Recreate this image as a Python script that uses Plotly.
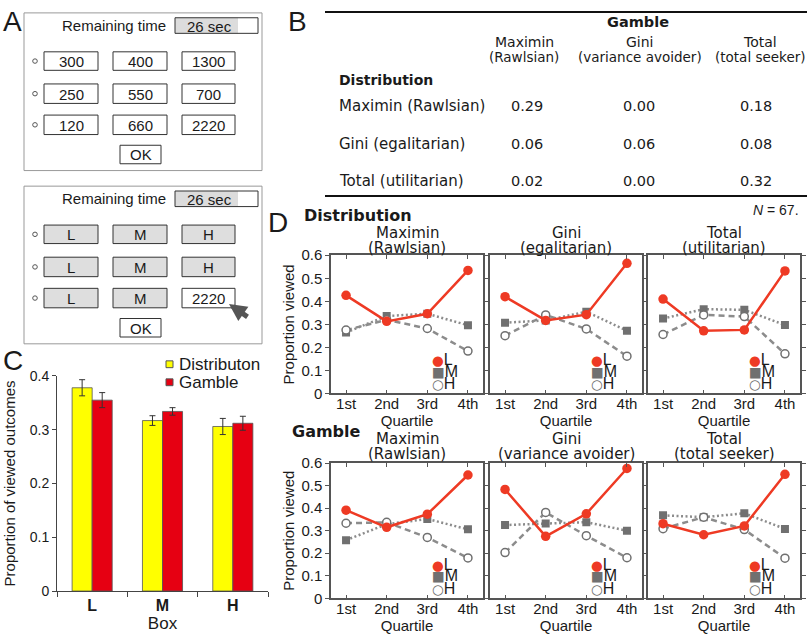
import plotly.graph_objects as go

W, H = 807, 637
ARIAL = "Liberation Sans, Arial, sans-serif"
WIDE = "DejaVu Sans, sans-serif"
INK = "#1a1a1a"

# ---- panel A: the two choice screens ----
remaining = "26 sec"
top_values = [["300", "400", "1300"], ["250", "550", "700"], ["120", "660", "2220"]]
bottom_values = [["L", "M", "H"], ["L", "M", "H"], ["L", "M", "2220"]]

# ---- panel B: type cross table ----
gamble_types = [("Maximin", "(Rawlsian)"), ("Gini", "(variance avoider)"), ("Total", "(total seeker)")]
dist_types = ["Maximin (Rawlsian)", "Gini (egalitarian)", "Total (utilitarian)"]
cross_table = [["0.29", "0.00", "0.18"],
               ["0.06", "0.06", "0.08"],
               ["0.02", "0.00", "0.32"]]
n_subjects = 67

# ---- panel C: proportion of viewed outcomes ----
boxes = ["L", "M", "H"]
dist_prop = [0.378, 0.317, 0.306]
dist_err = [0.015, 0.009, 0.015]
gamble_prop = [0.355, 0.334, 0.312]
gamble_err = [0.014, 0.007, 0.013]

# ---- panel D: proportion viewed by quartile ----
quartiles = ["1st", "2nd", "3rd", "4th"]
dist_titles = [("Maximin", "(Rawlsian)"), ("Gini", "(egalitarian)"), ("Total", "(utilitarian)")]
gamble_titles = [("Maximin", "(Rawlsian)"), ("Gini", "(variance avoider)"), ("Total", "(total seeker)")]
dist_L = [[0.426, 0.313, 0.346, 0.534], [0.420, 0.317, 0.342, 0.565], [0.410, 0.272, 0.276, 0.532]]
dist_M = [[0.265, 0.336, 0.346, 0.296], [0.307, 0.317, 0.355, 0.272], [0.325, 0.366, 0.363, 0.297]]
dist_H = [[0.275, 0.320, 0.282, 0.184], [0.251, 0.341, 0.280, 0.162], [0.256, 0.341, 0.334, 0.172]]
gamble_L = [[0.391, 0.315, 0.373, 0.547], [0.483, 0.275, 0.375, 0.576], [0.331, 0.282, 0.321, 0.550]]
gamble_M = [[0.258, 0.329, 0.352, 0.306], [0.325, 0.332, 0.338, 0.300], [0.368, 0.360, 0.377, 0.308]]
gamble_H = [[0.333, 0.337, 0.270, 0.179], [0.203, 0.381, 0.278, 0.180], [0.309, 0.360, 0.305, 0.178]]

RED = "#ee3a24"
GRAY = "#707070"
LINE_GRAY = "#8c8c8c"
YELLOW = "#ffff00"
CRIMSON = "#e60012"


def px(x):
    return x / W


def py(y):
    return 1 - y / H


shapes = []
notes = []


def text(x, y, s, size=15, family=ARIAL, xanchor="center", color=INK):
    notes.append(dict(x=px(x), y=py(y), xref="paper", yref="paper", text=s, showarrow=False,
                      xanchor=xanchor, yanchor="middle",
                      font=dict(size=size, family=family, color=color)))


def rect(x0, y0, x1, y1, line="#333", fill="white", width=1):
    shapes.append(dict(type="rect", xref="paper", yref="paper",
                       x0=px(x0), x1=px(x1), y0=py(y1), y1=py(y0),
                       line=dict(color=line, width=width), fillcolor=fill))


def hline(x0, x1, y, width=1, color="#111"):
    shapes.append(dict(type="line", xref="paper", yref="paper", x0=px(x0), x1=px(x1),
                       y0=py(y), y1=py(y), line=dict(color=color, width=width)))


# panel A screens
def screen(top, labels, shaded):
    rect(24, top, 262, top + 162, line="#999")
    text(168, top + 13, "Remaining time", xanchor="right")
    rect(175, top + 5, 238, top + 21, line="rgba(0,0,0,0)", fill="#dcdcdc", width=0)
    rect(175, top + 5, 258, top + 21, fill="rgba(0,0,0,0)")
    text(209, top + 14, remaining)
    cols = [(44, 98), (113, 167), (182, 235)]
    rows = [(40, 59), (73, 93), (105, 125)]
    for r, (a, b) in enumerate(rows):
        cy = top + (a + b) / 2
        shapes.append(dict(type="circle", xref="paper", yref="paper",
                           x0=px(32.7), x1=px(37.3), y0=py(cy + 2.3), y1=py(cy - 2.3),
                           line=dict(color="#555", width=1)))
        for c, (l, rr) in enumerate(cols):
            lab = labels[r][c]
            fill = "#dedede" if shaded and lab in ("L", "M", "H") else "white"
            rect(l, top + a, rr, top + b, fill=fill)
            text((l + rr) / 2, cy + 0.5, lab)
    rect(120, top + 136, 161, top + 155)
    text(140.5, top + 146, "OK")


screen(4, top_values, False)
screen(182, bottom_values, True)
notes.append(dict(x=px(229), y=py(303), xref="paper", yref="paper", text="", showarrow=True,
                  ax=20, ay=14, arrowhead=2, arrowsize=0.7, arrowwidth=5, arrowcolor="#555"))

# panel B table
hline(325, 807, 3, width=2)
hline(325, 807, 192, width=2)
text(638, 13, "<b>Gamble</b>", size=14.5, family=WIDE)
for (name, sub), cx in zip(gamble_types, [524, 640, 760]):
    text(cx, 34, name, size=14, family=WIDE)
    text(cx, 49, sub, size=13.5, family=WIDE)
text(337, 73, "<b>Distribution</b>", size=14, family=WIDE, xanchor="left")
for r, (name, yy) in enumerate(zip(dist_types, [100, 139, 177])):
    text(337, yy, name, size=15, family=WIDE, xanchor="left")
    for val, cx in zip(cross_table[r], [527, 639, 756]):
        text(cx, yy, val, size=14.5, family=WIDE)
notes.append(dict(x=px(801), y=py(206), xref="paper", yref="paper", showarrow=False,
                  xanchor="right", yanchor="middle", text=f"<i>N</i> = {n_subjects}.",
                  font=dict(size=14, family=ARIAL, color=INK)))

# panel letters
for letter, (lx, ly) in {"A": (13, 13), "B": (297, 13), "C": (13, 361), "D": (278, 219)}.items():
    text(lx, ly, letter, size=28)

fig = go.Figure()

# panel C bars
fig.add_trace(go.Bar(x=boxes, y=dist_prop, name="Distributon", showlegend=False,
                     marker=dict(color=YELLOW, line=dict(color="#555", width=0.8)),
                     error_y=dict(type="data", array=dist_err, color="#333", thickness=1, width=3),
                     xaxis="x", yaxis="y"))
fig.add_trace(go.Bar(x=boxes, y=gamble_prop, name="Gamble", showlegend=False,
                     marker=dict(color=CRIMSON, line=dict(color="#555", width=0.8)),
                     error_y=dict(type="data", array=gamble_err, color="#333", thickness=1, width=3),
                     xaxis="x", yaxis="y"))
# legend keys for panel C
for (name, color), yy in zip([("Distributon", YELLOW), ("Gamble", CRIMSON)], [365, 383.5]):
    rect(166, yy - 3.5, 173, yy + 3.5, line="#555", fill=color)
    text(177, yy, name, size=17, xanchor="left")

layout_axes = {}
layout_axes["xaxis"] = dict(domain=[px(57), px(268)], anchor="y", type="category",
                            tickvals=boxes, ticktext=[f"<b>{b}</b>" for b in boxes],
                            tickson="boundaries", ticks="outside", ticklen=5, tickcolor="#444",
                            showline=True, linecolor="#444", linewidth=1, showgrid=False,
                            tickfont=dict(size=16, family=ARIAL, color=INK),
                            title=dict(text="Box", standoff=0, font=dict(size=17, family=ARIAL, color=INK)))
layout_axes["yaxis"] = dict(domain=[py(598), py(377)], anchor="x", range=[0, 0.4], dtick=0.1,
                            ticks="outside", ticklen=4, tickcolor="#444", showline=True,
                            linecolor="#444", linewidth=1, showgrid=False, zeroline=False,
                            tickfont=dict(size=14, family=ARIAL, color=INK),
                            title=dict(text="Proportion of viewed outcomes", standoff=10,
                                       font=dict(size=15, family=ARIAL, color=INK)))

# panel D line charts
cols = [(331, 483), (490, 642), (648, 800)]
rows = [(253, 395, dist_titles, (dist_L, dist_M, dist_H), (230, 246)),
        (466.5, 605.5, gamble_titles, (gamble_L, gamble_M, gamble_H), (442, 457))]
text(302, 212, "<b>Distribution</b>", size=16, family=WIDE, xanchor="left")
text(290, 434, "<b>Gamble</b>", size=16, family=WIDE, xanchor="left")

for r, (top, bottom, titles, (Ls, Ms, Hs), (t1, t2)) in enumerate(rows):
    for c, (left, right) in enumerate(cols):
        idx = 2 + r * 3 + c
        xa, ya = f"x{idx}", f"y{idx}"
        fig.add_trace(go.Scatter(x=quartiles, y=Ms[c], mode="lines+markers", showlegend=False,
                                 line=dict(color=LINE_GRAY, width=2.5, dash="2px,2.5px"),
                                 marker=dict(symbol="square", size=8, color=GRAY),
                                 xaxis=xa, yaxis=ya))
        fig.add_trace(go.Scatter(x=quartiles, y=Hs[c], mode="lines+markers", showlegend=False,
                                 line=dict(color=LINE_GRAY, width=2.5, dash="6px,4px"),
                                 marker=dict(symbol="circle", size=8, color="white",
                                             line=dict(color=GRAY, width=1.5)),
                                 xaxis=xa, yaxis=ya))
        fig.add_trace(go.Scatter(x=quartiles, y=Ls[c], mode="lines+markers", showlegend=False,
                                 line=dict(color=RED, width=2.5),
                                 marker=dict(symbol="circle", size=9.5, color=RED),
                                 xaxis=xa, yaxis=ya))
        layout_axes[f"xaxis{idx}"] = dict(
            domain=[px(left), px(right)], anchor=ya, type="category", categoryarray=quartiles,
            range=[-0.37, 3.37], showline=True, mirror="ticks", linecolor="#555", linewidth=1.5,
            ticks="inside", ticklen=4, tickcolor="#555", showgrid=False, ticklabelstandoff=-4,
            tickfont=dict(size=15, family=ARIAL, color=INK),
            title=dict(text="Quartile", standoff=0, font=dict(size=15, family=ARIAL, color=INK)))
        layout_axes[f"yaxis{idx}"] = dict(
            domain=[py(bottom), py(top)], anchor=xa, range=[0, 0.6], dtick=0.1,
            showline=True, mirror="ticks", linecolor="#555", linewidth=1.5,
            ticks="outside", ticklen=4, tickcolor="#555", showgrid=False, zeroline=False,
            showticklabels=(c == 0), tickfont=dict(size=15, family=ARIAL, color=INK),
            title=dict(text="Proportion viewed" if c == 0 else "", standoff=3,
                       font=dict(size=15, family=ARIAL, color=INK)))
        name, sub = titles[c]
        text((left + right) / 2, t1, name, size=15, family=WIDE)
        text((left + right) / 2, t2, sub, size=15, family=WIDE)
        # legend inside each panel: coloured glyph followed by the series letter
        for glyph, gcolor, lab, dy in [("●", RED, "L", 35), ("■", GRAY, "M", 23), ("○", GRAY, "H", 10.5)]:
            key = (f'<span style="color:{gcolor};font-family:DejaVu Sans;font-size:13.5px">'
                   f'{glyph}</span>{lab}')
            text(left + 99, bottom - dy, key, size=16, family=ARIAL, xanchor="left")

fig.update_layout(
    width=W, height=H, margin=dict(l=0, r=0, t=0, b=0),
    paper_bgcolor="white", plot_bgcolor="white",
    barmode="group", bargap=0.43, bargroupgap=0,
    showlegend=False,
    shapes=shapes, annotations=notes,
    **layout_axes,
)

pin = ("document.body.style.margin='0';"
       "document.documentElement.style.overflow='hidden';"
       "var g=document.getElementsByClassName('plotly-graph-div')[0];"
       "g.style.position='fixed';g.style.left='0px';g.style.top='0px';")
fig.write_html("out.html", config={"displayModeBar": False}, post_script=pin)
